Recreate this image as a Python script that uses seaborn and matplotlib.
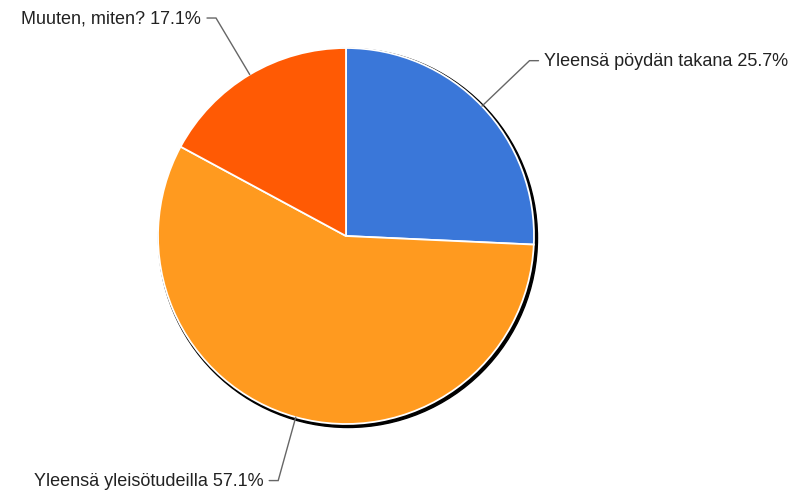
import numpy as np
import matplotlib
matplotlib.use("Agg")
import matplotlib.pyplot as plt
import seaborn as sns
from matplotlib.patches import Circle

labels = ['Yleensä pöydän takana', 'Yleensä yleisötudeilla', 'Muuten, miten?']
shares = [25.7, 57.1, 17.1]
colors = ['#3a77d9', '#ff9a1f', '#ff5a04']

sns.set_theme(style="white")
plt.rcParams['font.family'] = ['Liberation Sans', 'DejaVu Sans']

W, H = 794, 491
fig = plt.figure(figsize=(W / 100, H / 100), dpi=100)
ax = fig.add_axes([0, 0, 1, 1])

cx, cy, r = 346, H - 236, 188

# shadow / dark rim behind the pie
ax.add_patch(Circle((cx + 2, cy - 2), r + 1.5, color='black', zorder=1))

wedges, _ = ax.pie(shares, colors=colors, startangle=90, counterclock=False,
                   center=(cx, cy), radius=r, frame=True,
                   wedgeprops=dict(edgecolor='white', linewidth=1.3, zorder=2))

for w, lab, val in zip(wedges, labels, shares):
    mid = np.deg2rad((w.theta1 + w.theta2) / 2)
    x0, y0 = cx + r * np.cos(mid), cy + r * np.sin(mid)
    x1, y1 = cx + 1.35 * r * np.cos(mid), cy + 1.35 * r * np.sin(mid)
    side = 1 if np.cos(mid) > 0 else -1
    x2 = x1 + side * 9
    ax.plot([x0, x1, x2], [y0, y1, y1], color='#666666', lw=1, zorder=3,
            solid_joinstyle='miter')
    gap = 5 if side > 0 else 6
    ax.text(x2 + side * gap, y1 - 1, f'{lab} {val}%', ha='left' if side > 0 else 'right',
            va='center', fontsize=13, color='#222222')

ax.set_xlim(0, W)
ax.set_ylim(0, H)
ax.set_aspect('equal')
ax.axis('off')

fig.savefig('out.png', dpi=100)
